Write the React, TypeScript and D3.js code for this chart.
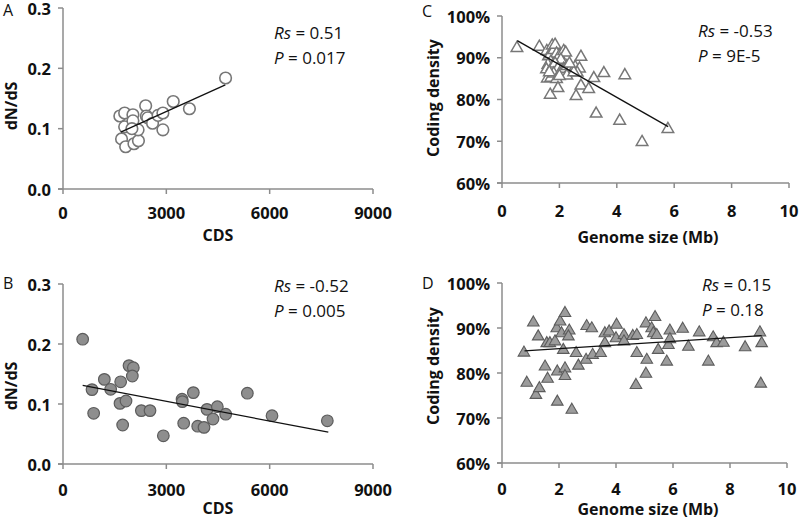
import React from "react";
import * as d3 from "d3";

// ---------- data ----------
const cdsTicks = [0, 3000, 6000, 9000];
const dndsTicks = [0, 0.1, 0.2, 0.3];
const genomeTicks = [0, 2, 4, 6, 8, 10];
const densityTicks = [60, 70, 80, 90, 100];

// Panel A
const aCds = [1650, 1790, 2030, 1790, 2030, 1700, 1820, 2060, 2190, 2180, 2000, 2400, 2420, 2460, 2600, 2760, 2900, 2900, 3200, 3670, 4720];
const aDnds = [0.121, 0.126, 0.123, 0.103, 0.113, 0.083, 0.070, 0.075, 0.080, 0.098, 0.100, 0.138, 0.121, 0.118, 0.109, 0.122, 0.126, 0.098, 0.145, 0.133, 0.184];
const aTrendX = [1676, 4713];
const aTrendY = [0.0944, 0.1726];

// Panel B
const bCds = [571, 842, 890, 1200, 1384, 1674, 1916, 2042, 2013, 1655, 1829, 1732, 2274, 2526, 2913, 3456, 3465, 3504, 3784, 3911, 4094, 4181, 4355, 4481, 4724, 5352, 6068, 7674];
const bDnds = [0.208, 0.124, 0.0845, 0.141, 0.1245, 0.137, 0.164, 0.1605, 0.1467, 0.101, 0.105, 0.065, 0.089, 0.089, 0.047, 0.108, 0.104, 0.068, 0.119, 0.063, 0.061, 0.091, 0.075, 0.0955, 0.083, 0.118, 0.0805, 0.072];
const bTrendX = [571, 7702];
const bTrendY = [0.131, 0.053];

// Panel C
const cGenome = [0.52, 1.30, 1.56, 1.62, 1.68, 1.75, 1.80, 1.85, 1.90, 2.0, 2.15, 2.22, 2.05, 1.70, 1.60, 1.55, 1.75, 1.85, 1.95, 2.05, 2.15, 2.26, 2.40, 2.55, 2.70, 2.75, 2.62, 1.58, 1.70, 1.80, 1.90, 2.26, 2.50, 1.68, 1.95, 2.58, 2.75, 3.02, 3.20, 3.55, 4.28, 3.28, 4.10, 4.88, 5.78, 2.35, 1.65, 2.0];
const cDensity = [92.3, 92.6, 91.6, 90.3, 90.8, 92.9, 91.8, 93.1, 91.0, 90.5, 91.6, 91.2, 89.5, 89.0, 88.3, 87.2, 87.8, 88.6, 87.5, 86.8, 87.3, 88.0, 87.5, 87.8, 87.4, 90.2, 86.4, 85.0, 85.2, 86.2, 84.9, 85.7, 86.5, 81.1, 82.7, 80.8, 83.3, 82.5, 85.1, 86.3, 85.8, 76.6, 74.9, 69.8, 72.9, 88.6, 86.5, 85.6];
const cTrendX = [0.53, 5.79];
const cTrendY = [94.1, 73.5];

// Panel D
const dGenome = [0.77, 0.87, 1.10, 1.27, 1.19, 1.31, 1.51, 1.57, 1.60, 1.68, 1.86, 1.92, 1.94, 1.94, 2.04, 2.09, 2.21, 2.15, 2.21, 2.21, 2.36, 2.33, 2.45, 2.60, 2.68, 2.97, 3.15, 2.95, 3.18, 3.46, 3.61, 3.61, 3.76, 4.02, 4.0, 4.28, 4.28, 4.59, 4.73, 4.73, 4.70, 5.05, 5.08, 5.05, 5.25, 5.37, 5.31, 5.43, 5.48, 5.78, 5.89, 5.84, 5.89, 6.34, 6.54, 6.92, 7.24, 7.41, 7.53, 7.77, 8.53, 9.05, 9.11, 9.08];
const dDensity = [84.5, 77.8, 91.2, 88.1, 75.1, 76.6, 81.4, 86.6, 78.7, 86.6, 87.0, 89.9, 80.3, 73.6, 91.4, 88.8, 93.3, 85.1, 81.0, 79.3, 89.4, 88.1, 71.8, 84.4, 81.6, 90.4, 89.9, 82.9, 84.0, 84.4, 86.6, 88.8, 89.2, 90.7, 87.7, 88.4, 87.0, 88.2, 88.4, 84.4, 77.3, 91.0, 82.9, 79.8, 89.9, 92.4, 88.8, 88.4, 85.1, 82.5, 89.4, 86.2, 87.5, 89.8, 85.8, 89.0, 82.5, 87.9, 86.6, 86.7, 85.7, 89.0, 86.6, 77.6];
const dTrendX = [0.79, 9.11];
const dTrendY = [84.9, 88.3];

// ---------- drawing ----------
const FONT = "'Open Sans', sans-serif";
const AXIS = "#8c8c8c";

type Marker = "circleOpen" | "circleFilled" | "triOpen" | "triFilled";

const triPath = d3.symbol().type(d3.symbolTriangle).size(58)() as string;

function Mark({ kind, x, y }: { kind: Marker; x: number; y: number }) {
  if (kind === "circleOpen")
    return <circle cx={x} cy={y} r={5.8} fill="#fff" stroke="#777" strokeWidth={1.6} />;
  if (kind === "circleFilled")
    return <circle cx={x} cy={y} r={5.8} fill="#8e8e8e" stroke="#5c5c5c" strokeWidth={1.2} />;
  if (kind === "triOpen")
    return <path d={triPath} transform={`translate(${x},${y})`} fill="#fff" stroke="#777" strokeWidth={1.5} />;
  return <path d={triPath} transform={`translate(${x},${y})`} fill="#9c9c9c" stroke="#5c5c5c" strokeWidth={1.1} />;
}

interface PanelProps {
  letter: string;
  letterX: number;
  letterY: number;
  xDomain: [number, number];
  xRange: [number, number];
  yDomain: [number, number];
  yRange: [number, number];
  xTicks: number[];
  yTicks: number[];
  yFmt: (v: number) => string;
  xTitle: string;
  yTitle: string;
  xTitleX: number;
  xTitleY: number;
  yTitleX: number;
  yTitleY: number;
  xLabelY: number;
  rs: string;
  p: string;
  statsX: number;
  statsY: number;
  xs: number[];
  ys: number[];
  trendX: number[];
  trendY: number[];
  marker: Marker;
}

function Panel(pr: PanelProps) {
  const x = d3.scaleLinear().domain(pr.xDomain).range(pr.xRange);
  const y = d3.scaleLinear().domain(pr.yDomain).range(pr.yRange);
  const x0 = pr.xRange[0];
  const y0 = pr.yRange[0];
  const line = d3
    .line<number>()
    .x((_, i) => x(pr.trendX[i]))
    .y((_, i) => y(pr.trendY[i]));
  return (
    <g>
      <text x={pr.letterX} y={pr.letterY} fontFamily={FONT} fontSize={16} fill="#111" dominantBaseline="middle">
        {pr.letter}
      </text>
      {/* axes */}
      <line x1={x0} x2={x0} y1={pr.yRange[1]} y2={y0} stroke={AXIS} strokeWidth={1.5} />
      <line x1={x0 - 5} x2={pr.xRange[1]} y1={y0} y2={y0} stroke={AXIS} strokeWidth={1.5} />
      {pr.yTicks.map((t) => (
        <g key={"y" + t}>
          <line x1={x0 - 5} x2={x0} y1={y(t)} y2={y(t)} stroke={AXIS} strokeWidth={1.5} />
          <text x={x0 - 12} y={y(t)} textAnchor="end" dominantBaseline="central" fontFamily={FONT} fontWeight={700} fontSize={16.5} fill="#111">
            {pr.yFmt(t)}
          </text>
        </g>
      ))}
      {pr.xTicks.map((t) => (
        <g key={"x" + t}>
          <line x1={x(t)} x2={x(t)} y1={y0} y2={y0 + 5} stroke={AXIS} strokeWidth={1.5} />
          <text x={x(t)} y={pr.xLabelY} textAnchor="middle" dominantBaseline="central" fontFamily={FONT} fontWeight={700} fontSize={16.5} fill="#111">
            {t}
          </text>
        </g>
      ))}
      <text x={pr.xTitleX} y={pr.xTitleY} textAnchor="middle" dominantBaseline="central" fontFamily={FONT} fontWeight={700} fontSize={16} fill="#111">
        {pr.xTitle}
      </text>
      <text
        transform={`translate(${pr.yTitleX},${pr.yTitleY}) rotate(-90)`}
        textAnchor="middle"
        dominantBaseline="central"
        fontFamily={FONT}
        fontWeight={700}
        fontSize={16}
        fill="#111"
      >
        {pr.yTitle}
      </text>
      {/* points */}
      {pr.xs.map((v, i) => (
        <Mark key={i} kind={pr.marker} x={x(v)} y={y(pr.ys[i])} />
      ))}
      <path d={line(pr.trendX) || ""} fill="none" stroke="#111" strokeWidth={1.3} />
      {/* stats */}
      <text x={pr.statsX} y={pr.statsY} fontFamily={FONT} fontSize={17} fill="#111">
        <tspan fontStyle="italic">Rs</tspan>
        <tspan>{" = " + pr.rs}</tspan>
      </text>
      <text x={pr.statsX} y={pr.statsY + 25} fontFamily={FONT} fontSize={17} fill="#111">
        <tspan fontStyle="italic">P</tspan>
        <tspan>{" = " + pr.p}</tspan>
      </text>
    </g>
  );
}

const fmtDnds = (v: number) => d3.format(".1f")(v);
const fmtPct = (v: number) => `${v}%`;

export default function App() {
  return (
    <svg width={800} height={521} style={{ position: "absolute", left: 0, top: 0, background: "#fff" }}>
      <rect width={800} height={521} fill="#fff" />
      <Panel
        letter="A" letterX={3} letterY={12}
        xDomain={[0, 9000]} xRange={[63, 373]}
        yDomain={[0, 0.3]} yRange={[189, 8]}
        xTicks={cdsTicks} yTicks={dndsTicks} yFmt={fmtDnds}
        xTitle="CDS" yTitle="dN/dS"
        xTitleX={218} xTitleY={235} yTitleX={11} yTitleY={106}
        xLabelY={212}
        rs="0.51" p="0.017" statsX={274} statsY={39}
        xs={aCds} ys={aDnds} trendX={aTrendX} trendY={aTrendY}
        marker="circleOpen"
      />
      <Panel
        letter="B" letterX={3} letterY={285}
        xDomain={[0, 9000]} xRange={[63, 373]}
        yDomain={[0, 0.3]} yRange={[464, 284]}
        xTicks={cdsTicks} yTicks={dndsTicks} yFmt={fmtDnds}
        xTitle="CDS" yTitle="dN/dS"
        xTitleX={218} xTitleY={508} yTitleX={11} yTitleY={386}
        xLabelY={489}
        rs="-0.52" p="0.005" statsX={274} statsY={292}
        xs={bCds} ys={bDnds} trendX={bTrendX} trendY={bTrendY}
        marker="circleFilled"
      />
      <Panel
        letter="C" letterX={422} letterY={13}
        xDomain={[0, 10]} xRange={[502, 789]}
        yDomain={[60, 100]} yRange={[183, 16]}
        xTicks={genomeTicks} yTicks={densityTicks} yFmt={fmtPct}
        xTitle="Genome size (Mb)" yTitle="Coding density"
        xTitleX={648} xTitleY={237} yTitleX={433} yTitleY={98}
        xLabelY={210}
        rs="-0.53" p="9E-5" statsX={698} statsY={37}
        xs={cGenome} ys={cDensity} trendX={cTrendX} trendY={cTrendY}
        marker="triOpen"
      />
      <Panel
        letter="D" letterX={422} letterY={285}
        xDomain={[0, 10]} xRange={[502, 787]}
        yDomain={[60, 100]} yRange={[463, 283]}
        xTicks={genomeTicks} yTicks={densityTicks} yFmt={fmtPct}
        xTitle="Genome size (Mb)" yTitle="Coding density"
        xTitleX={648} xTitleY={509} yTitleX={433} yTitleY={366}
        xLabelY={488}
        rs="0.15" p="0.18" statsX={702} statsY={291}
        xs={dGenome} ys={dDensity} trendX={dTrendX} trendY={dTrendY}
        marker="triFilled"
      />
    </svg>
  );
}
